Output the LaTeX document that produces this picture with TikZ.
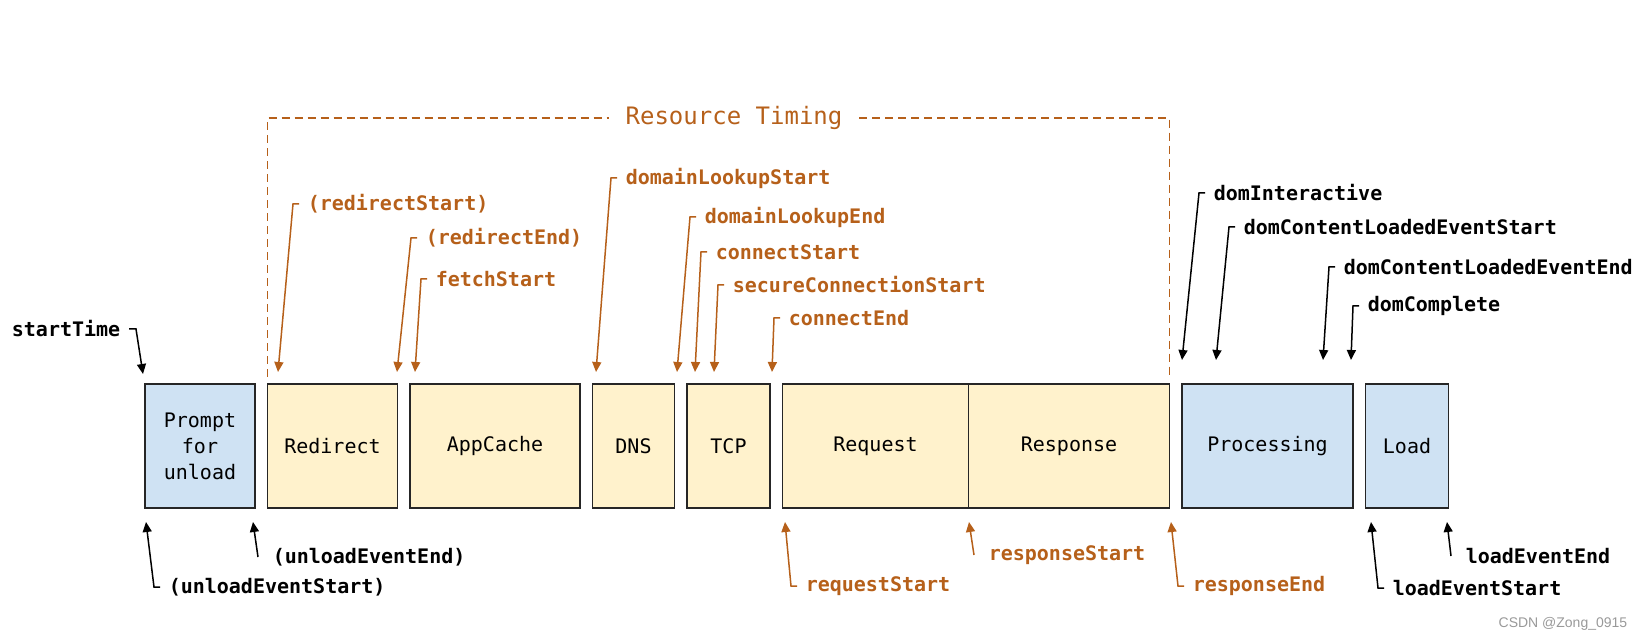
\documentclass[tikz,border=0pt]{standalone}
\usepackage{fontspec}
\setmainfont{Liberation Sans}
\setmonofont{DejaVu Sans Mono}
\usetikzlibrary{arrows.meta, positioning}

\definecolor{rtorange}{HTML}{B6601A}
\definecolor{rtyellow}{HTML}{FFF2CC}
\definecolor{navblue}{HTML}{CFE2F3}

\begin{document}
\begin{tikzpicture}[x=0.5pt, y=-0.5pt, ->, >={Triangle[length=5pt, width=4.5pt]}, line width=0.75pt,
  phase/.style={draw=black!85, line width=0.8pt, minimum height=62pt, inner sep=0pt, outer sep=0pt,
    font=\fontsize{10}{13}\selectfont\ttfamily, align=center},
  rtbox/.style={phase, fill=rtyellow},
  navbox/.style={phase, fill=navblue},
  tlabel/.style={anchor=west, inner xsep=4pt, inner ysep=0pt, font=\ttfamily\bfseries, text=rtorange},
  blabel/.style={tlabel, text=black},
  rtlink/.style={draw=rtorange},
  rtbracket/.style={-, draw=rtorange, line width=0.6pt, dash pattern=on 4pt off 2.5pt}]

		\useasboundingbox (0,0) rectangle (1644,641);

		% phases
		\node[navbox, minimum width=55pt, anchor=north west] (prompt) at (145,384) {Prompt\\for\\unload};
		\node[rtbox, minimum width=65pt] (redirect) [right=6.25pt of prompt] {Redirect};
		\node[rtbox, minimum width=85pt] (appcache) [right=6.25pt of redirect] {AppCache};
		\node[rtbox, minimum width=41pt] (dns) [right=6.25pt of appcache] {DNS};
		\node[rtbox, minimum width=41.5pt] (tcp) [right=6.25pt of dns] {TCP};
		\node[rtbox, minimum width=93pt] (request) [right=6.25pt of tcp] {Request};
		\node[rtbox, minimum width=100.5pt] (response) [right=0pt of request] {Response};
		\node[navbox, minimum width=85.5pt] (processing) [right=6.25pt of response] {Processing};
		\node[navbox, minimum width=41.5pt] (load) [right=6.25pt of processing] {Load};

		% resource timing bracket
		\node[inner xsep=8pt, font=\fontsize{12}{14}\selectfont\ttfamily, text=rtorange] (rtitle) at (734,118) {Resource Timing};
		\draw[rtbracket] ([yshift=3.5pt]redirect.north west) |- (rtitle.west);
		\draw[rtbracket] (rtitle.east) -| ([yshift=3.5pt]response.north east);

		% marks above
		\node[blabel, anchor=east] (starttime) at (129,329) {startTime};
		\node[tlabel] (redirectstart) at (299,204) {(redirectStart)};
		\node[tlabel] (redirectend) at (417,238) {(redirectEnd)};
		\node[tlabel] (fetchstart) at (427,279) {fetchStart};
		\node[tlabel] (dnsstart) at (617,178) {domainLookupStart};
		\node[tlabel] (dnsend) at (696,217) {domainLookupEnd};
		\node[tlabel] (connstart) at (707,252) {connectStart};
		\node[tlabel] (securestart) at (724,285) {secureConnectionStart};
		\node[tlabel] (connend) at (780,318) {connectEnd};
		\node[blabel] (dominteractive) at (1205,193) {domInteractive};
		\node[blabel] (dclstart) at (1235,227) {domContentLoadedEventStart};
		\node[blabel] (dclend) at (1335,267) {domContentLoadedEventEnd};
		\node[blabel] (domcomplete) at (1359,306) {domComplete};

		% marks below
		\node[blabel] (unloadstart) at (160,587) {(unloadEventStart)};
		\node[blabel] (unloadend) at (264,557) {(unloadEventEnd)};
		\node[tlabel] (requeststart) at (797,586) {requestStart};
		\node[tlabel] (responsestart) at (980,555) {responseStart};
		\node[tlabel] (responseend) at (1184,586) {responseEnd};
		\node[blabel] (loadstart) at (1384,588) {loadEventStart};
		\node[blabel] (loadend) at (1457,556) {loadEventEnd};

		\coordinate (t-start) at (143,374);
		\coordinate (t-redirectstart) at (278,372);
		\coordinate (t-redirectend) at (397,372);
		\coordinate (t-fetchstart) at (415,372);
		\coordinate (t-dnsstart) at (596,372);
		\coordinate (t-dnsend) at (677,372);
		\coordinate (t-connstart) at (695,372);
		\coordinate (t-securestart) at (714,372);
		\coordinate (t-connend) at (772,372);
		\coordinate (t-dominteractive) at (1182,360);
		\coordinate (t-dclstart) at (1216,360);
		\coordinate (t-dclend) at (1323,360);
		\coordinate (t-domcomplete) at (1351,360);
		\coordinate (t-unloadstart) at (146,522);
		\coordinate (t-unloadend) at (253,522);
		\coordinate (t-requeststart) at (785,522);
		\coordinate (t-responsestart) at (969,522);
		\coordinate (t-responseend) at (1171,522);
		\coordinate (t-loadstart) at (1371,522);
		\coordinate (t-loadend) at (1447,522);

		\draw (starttime.east) -- ++(7,0) -- (t-start);
		\draw[rtlink] (redirectstart.west) -- ++(-6,0) -- (t-redirectstart);
		\draw[rtlink] (redirectend.west) -- ++(-6,0) -- (t-redirectend);
		\draw[rtlink] (fetchstart.west) -- ++(-6,0) -- (t-fetchstart);
		\draw[rtlink] (dnsstart.west) -- ++(-6,0) -- (t-dnsstart);
		\draw[rtlink] (dnsend.west) -- ++(-6,0) -- (t-dnsend);
		\draw[rtlink] (connstart.west) -- ++(-6,0) -- (t-connstart);
		\draw[rtlink] (securestart.west) -- ++(-6,0) -- (t-securestart);
		\draw[rtlink] (connend.west) -- ++(-6,0) -- (t-connend);
		\draw (dominteractive.west) -- ++(-6,0) -- (t-dominteractive);
		\draw (dclstart.west) -- ++(-6,0) -- (t-dclstart);
		\draw (dclend.west) -- ++(-6,0) -- (t-dclend);
		\draw (domcomplete.west) -- ++(-6,0) -- (t-domcomplete);

		\draw (unloadstart.west) -- ++(-6,0) -- (t-unloadstart);
		\draw ([xshift=-3pt]unloadend.west) -- (t-unloadend);
		\draw[rtlink] (requeststart.west) -- ++(-6,0) -- (t-requeststart);
		\draw[rtlink] ([xshift=-3pt]responsestart.west) -- (t-responsestart);
		\draw[rtlink] (responseend.west) -- ++(-6,0) -- (t-responseend);
		\draw (loadstart.west) -- ++(-6,0) -- (t-loadstart);
		\draw ([xshift=-3pt]loadend.west) -- (t-loadend);

		\node[anchor=east, inner sep=0pt, text=black!40, font=\fontsize{7}{8}\selectfont] (watermark) at (1628,624) {CSDN @Zong\_0915};

\end{tikzpicture}
\end{document}
